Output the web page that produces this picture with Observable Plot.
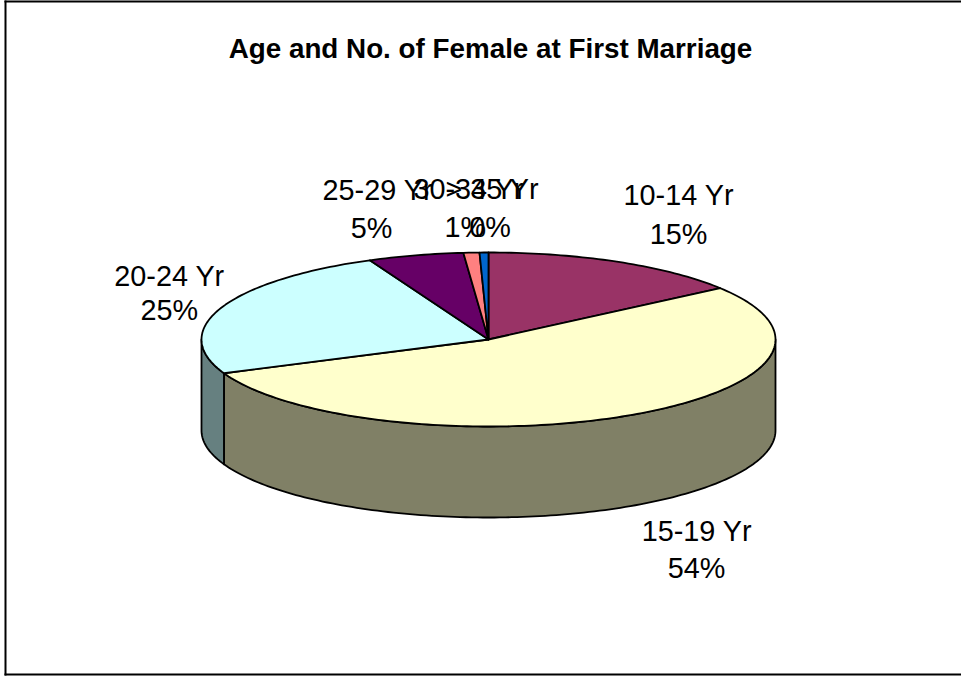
<!DOCTYPE html>
<html>
<head>
<meta charset="utf-8">
<style>html,body{margin:0;padding:0;background:#fff}svg{display:block}</style>
<script src="https://cdn.jsdelivr.net/npm/d3@7"></script>
<script src="https://cdn.jsdelivr.net/npm/@observablehq/plot@0.6"></script>
</head>
<body>
<div id="chart"></div>
<script>
const title = "Age and No. of Female at First Marriage";
const categories = ["10-14 Yr", "15-19 Yr", "20-24 Yr", "25-29 Yr", "30-34 Yr", "> 35 Yr"];
const shares = [15, 53.8, 24.6, 5.4, 0.9, 0.5];
const percentLabels = ["15%", "54%", "25%", "5%", "1%", "0%"];
const colors = ["#993366", "#FFFFCC", "#CCFFFF", "#660066", "#FF8080", "#0066CC"];
const sideColors = ["#4D1A33", "#808066", "#668080", "#330033", "#804040", "#003366"];

// Layout of the tilted pie, in pixels
const W = 961, H = 677, cx = 488, cy = 339, rx = 287, ry = 87, depthPx = 91;
const depth = depthPx / ry;
// Label centres relative to the slice's rim point, in pixels: name line and percent line
const nameShift = [[60, -66], [67, 26], [-52, -31], [-38, -65], [-3, -63], [8, -63]];
const pctShift  = [[60, -27], [67, 63], [-52, 3], [-44, -27], [-6, -25], [6, -25]];

const arcs = d3.pie().sort(null).value(d => d)(shares);
const rim = a => [Math.sin(a), -Math.cos(a)];

function arcPoints(a0, a1) {
  const n = Math.max(2, Math.ceil((a1 - a0) / 0.02));
  return d3.range(n + 1).map(i => rim(a0 + (a1 - a0) * i / n));
}

const topRows = [], sideRows = [];
arcs.forEach((arc, i) => {
  const pts = [[0, 0], ...arcPoints(arc.startAngle, arc.endAngle)];
  pts.forEach(([x, y]) => topRows.push({x, y, i}));
  const a0 = Math.max(arc.startAngle, Math.PI / 2);
  const a1 = Math.min(arc.endAngle, Math.PI * 1.5);
  if (a1 > a0) {
    const edge = arcPoints(a0, a1);
    [...edge, ...edge.slice().reverse().map(([x, y]) => [x, y + depth])]
      .forEach(([x, y]) => sideRows.push({x, y, i}));
  }
});

const labelRows = arcs.map((arc, i) => {
  const mid = (arc.startAngle + arc.endAngle) / 2;
  const [ux, uy] = rim(mid);
  const front = Math.abs(mid - Math.PI) < Math.PI / 2;
  const base = uy + (front ? depth : 0);
  return {
    nx: ux + nameShift[i][0] / rx, ny: base + nameShift[i][1] / ry,
    px: ux + pctShift[i][0] / rx,  py: base + pctShift[i][1] / ry,
    name: categories[i],
    pct: percentLabels[i]
  };
});

const labelStyle = {fontFamily: "Liberation Sans, Arial, sans-serif", fontSize: 28.8, fill: "#000", stroke: "none"};

const plot = Plot.plot({
  width: W, height: H,
  marginLeft: 5, marginTop: 1, marginBottom: 3, marginRight: 0,
  style: {background: "#fff", overflow: "hidden"},
  x: {type: "linear", domain: [(5 - cx) / rx, (W - cx) / rx], range: [5, W], axis: null},
  y: {type: "linear", domain: [(1 - cy) / ry, (H - 3 - cy) / ry], range: [1, H - 3], axis: null},
  color: {type: "identity"},
  marks: [
    Plot.frame({anchor: "left", stroke: "#000", strokeWidth: 2}),
    Plot.frame({anchor: "top", stroke: "#000", strokeWidth: 2}),
    Plot.frame({anchor: "bottom", stroke: "#000", strokeWidth: 2}),
    Plot.line(sideRows, {x: "x", y: "y", z: "i", fill: d => sideColors[d.i], stroke: "#000", strokeWidth: 1.8, curve: "linear-closed"}),
    Plot.line(topRows, {x: "x", y: "y", z: "i", fill: d => colors[d.i], stroke: "#000", strokeWidth: 1.8, curve: "linear-closed"}),
    Plot.text(labelRows, {x: "nx", y: "ny", text: "name", ...labelStyle}),
    Plot.text(labelRows, {x: "px", y: "py", text: "pct", ...labelStyle}),
    Plot.text([title], {frameAnchor: "top", dx: 7, dy: 37, fontFamily: "Liberation Sans, Arial, sans-serif", fontWeight: "bold", fontSize: 27.8, fill: "#000"})
  ]
});
document.getElementById("chart").appendChild(plot);
</script>
</body>
</html>
